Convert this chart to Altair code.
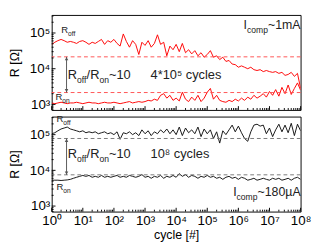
import altair as alt
import pandas as pd

FONT = "Liberation Sans"

# ---------------- data ----------------
cycles = [1, 1.26, 1.58, 2.0, 2.51, 3.16, 3.98, 5.01, 6.31, 7.94,
          10, 12.6, 15.8, 20.0, 25.1, 31.6, 39.8, 50.1, 63.1, 79.4,
          100, 126, 158, 200, 251, 316, 398, 501, 631, 794,
          1e3, 1.26e3, 1.58e3, 2e3, 2.51e3, 3.16e3, 3.98e3, 5.01e3, 6.31e3, 7.94e3,
          1e4, 1.26e4, 1.58e4, 2e4, 2.51e4, 3.16e4, 3.98e4, 5.01e4, 6.31e4, 7.94e4,
          1e5, 1.26e5, 1.58e5, 2e5, 2.51e5, 3.16e5, 3.98e5, 5.01e5, 6.31e5, 7.94e5,
          1e6, 1.26e6, 1.58e6, 2e6, 2.51e6, 3.16e6, 3.98e6, 5.01e6, 6.31e6, 7.94e6,
          1e7, 1.26e7, 1.58e7, 2e7, 2.51e7, 3.16e7, 3.98e7, 5.01e7, 6.31e7, 7.94e7,
          1e8]

# top panel: I_comp ~ 1 mA (red)
top_roff = [4.8e4, 5.5e4, 6.1e4, 6.6e4, 6.1e4, 5.5e4, 5.8e4, 5.5e4, 5.1e4, 5.8e4,
            6.1e4, 5.5e4, 4.8e4, 5.5e4, 5.1e4, 5.8e4, 6.6e4, 4.8e4, 6.1e4, 5.5e4,
            6.6e4, 5.1e4, 4.3e4, 9.4e4, 5.8e4, 4.0e4, 6.1e4, 4.8e4, 2.5e4, 5.5e4,
            4.5e4, 6.1e4, 4.0e4, 5.1e4, 8.9e4, 4.8e4, 5.5e4, 2.3e4, 4.3e4, 3.4e4,
            4.8e4, 3.0e4, 5.1e4, 2.8e4, 3.4e4, 2.6e4, 3.2e4, 2.3e4, 2.8e4, 2.1e4,
            2.5e4, 3.2e4, 2.1e4, 2.3e4, 1.8e4, 2.1e4, 1.6e4, 1.7e4, 1.35e4, 1.3e4,
            1.1e4, 1.2e4, 1.1e4, 1.0e4, 1.1e4, 9.4e3, 8.9e3, 9.4e3, 8.3e3, 8.9e3,
            8.3e3, 7.9e3, 8.3e3, 7.4e3, 7.9e3, 6.5e3, 6.9e3, 7.9e3, 6.1e3, 7.4e3,
            2.8e3]
top_ron = [1.1e3, 1.05e3, 1.1e3, 1.15e3, 1.1e3, 1.05e3, 1.1e3, 1.1e3, 1.15e3, 1.1e3,
           1.05e3, 1.1e3, 1.15e3, 1.1e3, 1.1e3, 1.05e3, 1.1e3, 1.15e3, 1.1e3, 1.1e3,
           1.15e3, 1.1e3, 1.05e3, 1.1e3, 1.15e3, 1.2e3, 1.1e3, 1.15e3, 1.2e3, 1.15e3,
           1.2e3, 1.3e3, 1.25e3, 1.4e3, 1.3e3, 1.8e3, 2.0e3, 1.5e3, 1.8e3, 1.3e3,
           1.5e3, 1.25e3, 2.2e3, 1.4e3, 1.2e3, 1.6e3, 1.3e3, 1.8e3, 1.2e3, 1.5e3,
           2.2e3, 2.8e3, 1.4e3, 1.8e3, 1.3e3, 1.2e3, 1.15e3, 1.3e3, 1.2e3, 1.4e3,
           1.25e3, 1.5e3, 1.3e3, 1.6e3, 1.4e3, 1.8e3, 1.5e3, 1.7e3, 2.0e3, 1.6e3,
           2.3e3, 1.8e3, 2.6e3, 1.7e3, 3.0e3, 2.0e3, 3.5e3, 1.9e3, 2.8e3, 4.0e3,
           2.5e3]
top_thresholds = [2.15e4, 2.15e3]

# bottom panel: I_comp ~ 180 uA (black)
bot_roff = [1.06e5, 1.13e5, 1.28e5, 1.44e5, 1.53e5, 1.63e5, 1.44e5, 1.36e5, 1.28e5, 1.2e5,
            1.28e5, 1.13e5, 1.2e5, 1.13e5, 1.2e5, 1.06e5, 1.13e5, 1.2e5, 1.06e5, 1.13e5,
            1.0e5, 1.2e5, 7.4e4, 1.13e5, 1.06e5, 1.2e5, 1.0e5, 1.13e5, 9.4e4, 1.36e5,
            1.06e5, 1.28e5, 9.4e4, 1.2e5, 1.06e5, 1.36e5, 1.13e5, 1.44e5, 1.06e5, 1.36e5,
            1.0e5, 1.63e5, 9.4e4, 1.53e5, 1.13e5, 1.36e5, 1.06e5, 1.63e5, 8.8e4, 1.44e5,
            1.06e5, 1.36e5, 7.8e4, 1.2e5, 5.8e4, 1.28e5, 1.0e5, 1.36e5, 1.85e5, 1.2e5,
            1.73e5, 1.13e5, 7.8e4, 6.5e4, 1.2e5, 1.85e5, 1.96e5, 1.73e5, 1.85e5, 1.06e5,
            1.53e5, 8.8e4, 1.36e5, 1.96e5, 1.2e5, 1.85e5, 1.13e5, 2.08e5, 9.4e4, 1.96e5,
            1.28e5]
bot_ron = [5.3e3, 5.3e3, 5.3e3, 5.2e3, 5.3e3, 5.4e3, 5.6e3, 6.0e3, 6.4e3, 6.8e3,
           7.2e3, 6.8e3, 7.2e3, 6.4e3, 6.8e3, 6.4e3, 7.2e3, 6.4e3, 6.8e3, 6.4e3,
           6.8e3, 7.2e3, 6.4e3, 6.8e3, 6.4e3, 7.2e3, 6.8e3, 6.4e3, 6.8e3, 7.6e3,
           6.4e3, 6.8e3, 6.0e3, 6.8e3, 6.4e3, 7.2e3, 6.0e3, 6.8e3, 6.4e3, 7.2e3,
           6.4e3, 8.1e3, 6.8e3, 7.6e3, 6.4e3, 7.2e3, 6.8e3, 6.0e3, 6.8e3, 6.4e3,
           7.2e3, 6.4e3, 6.8e3, 6.0e3, 6.4e3, 5.6e3, 6.4e3, 6.8e3, 6.0e3, 6.4e3,
           5.6e3, 6.4e3, 6.0e3, 5.3e3, 5.6e3, 6.0e3, 5.3e3, 5.6e3, 6.0e3, 5.6e3,
           5.3e3, 6.0e3, 5.6e3, 6.0e3, 5.3e3, 5.6e3, 6.0e3, 5.3e3, 6.0e3, 6.4e3,
           5.6e3]
bot_thresholds = [7.8e4, 7.5e3]

arrow_cycle = 3.0

x_major = [1, 10, 100, 1e3, 1e4, 1e5, 1e6, 1e7, 1e8]
x_minor = [m * d for d in [1, 10, 100, 1e3, 1e4, 1e5, 1e6, 1e7] for m in range(2, 10)]
y_major = [1e3, 1e4, 1e5]
y_minor = [700, 800, 900] + [m * d for d in [1e3, 1e4] for m in range(2, 10)] + [2e5, 3e5]

X_DOMAIN = [1, 1e8]
Y_DOMAIN = [700, 3.2e5]
W, H = 262, 100

SUP = "['⁰','¹','²','³','⁴','⁵','⁶','⁷','⁸','⁹']"
CHARW = {'R': .722, 'o': .556, 'f': .278, 'n': .556, '/': .278, '~': .584, '1': .556,
         '0': .556, '8': .556, 'I': .278, 'c': .5, 'm': .833, 'p': .556, 'A': .667,
         'µ': .576}


def X(show):
    axis = None
    if show:
        axis = alt.Axis(values=x_major, title="cycle [#]", labelFlush=False, labelOverlap=False,
                        labelPadding=3, titlePadding=1,
                        labelExpr="'10' + " + SUP + "[round(log(datum.value)/LN10)]")
    return alt.X("cycle:Q", scale=alt.Scale(type="log", domain=X_DOMAIN, nice=False), axis=axis)


def Y():
    axis = alt.Axis(values=y_major, title="R [Ω]", labelOverlap=False, labelPadding=2,
                    titlePadding=8,
                    labelExpr="'10' + " + SUP + "[round(log(datum.value)/LN10)]")
    return alt.Y("R:Q", scale=alt.Scale(type="log", domain=Y_DOMAIN, nice=False), axis=axis)


def label(parts, x, y, size, sub, show, color="#222"):
    layers = []
    dx = 0.0
    for text, is_sub in parts:
        fs = sub if is_sub else size
        layers.append(
            alt.Chart(pd.DataFrame({"cycle": [x], "R": [y], "t": [text]}))
            .mark_text(align="left", baseline="middle", dx=dx, dy=(size * 0.38 if is_sub else 0),
                       fontSize=fs, font=FONT, color=color)
            .encode(x=X(show), y=Y(), text="t:N")
        )
        dx += sum(CHARW.get(ch, .556) for ch in text) * fs
    return layers


def panel(roff, ron, color, thr, thr_color, texts, show_x):
    n = len(cycles)
    df = pd.DataFrame({"cycle": cycles * 2, "R": roff + ron,
                       "trace": ["off"] * n + ["on"] * n})
    lines = alt.Chart(df).mark_line(color=color, strokeWidth=1, clip=True).encode(
        x=X(show_x), y=Y(), detail="trace:N")
    dashes = alt.Chart(pd.DataFrame({"R": thr})).mark_rule(
        color=thr_color, strokeDash=[4, 3], strokeWidth=1).encode(y=Y())
    arr = pd.DataFrame({"cycle": [arrow_cycle], "R": [thr[1]], "R2": [thr[0]]})
    shaft = alt.Chart(arr).mark_rule(color="#555", strokeWidth=1).encode(
        x=X(show_x), y=Y(), y2="R2:Q")
    head_up = alt.Chart(pd.DataFrame({"cycle": [arrow_cycle], "R": [thr[0]]})).mark_point(
        shape="triangle-up", filled=True, size=14, color="#555", opacity=1, yOffset=2).encode(
        x=X(show_x), y=Y())
    head_dn = alt.Chart(pd.DataFrame({"cycle": [arrow_cycle], "R": [thr[1]]})).mark_point(
        shape="triangle-down", filled=True, size=14, color="#555", opacity=1, yOffset=-2).encode(
        x=X(show_x), y=Y())
    xt_major = alt.Chart(pd.DataFrame({"cycle": x_major})).mark_rule(color="black").encode(
        x=X(show_x), y=alt.value(H), y2=alt.value(H - 4))
    xt_minor = alt.Chart(pd.DataFrame({"cycle": x_minor})).mark_rule(color="black").encode(
        x=X(show_x), y=alt.value(H), y2=alt.value(H - 2))
    yt_major = alt.Chart(pd.DataFrame({"R": y_major})).mark_rule(color="black").encode(
        y=Y(), x=alt.value(0), x2=alt.value(4))
    yt_minor = alt.Chart(pd.DataFrame({"R": y_minor})).mark_rule(color="black").encode(
        y=Y(), x=alt.value(0), x2=alt.value(2))
    layers = [lines, dashes, shaft, head_up, head_dn, xt_major, xt_minor, yt_major, yt_minor]
    for parts, x, y, size, sub in texts:
        layers += label(parts, x, y, size, sub, show_x)
    return alt.layer(*layers).properties(width=W, height=H)


top_texts = [
    ([("R", False), ("off", True)], 2.02, 1.2e5, 10, 7),
    ([("R", False), ("on", True)], 1.32, 1.55e3, 10, 7),
    ([("R", False), ("off", True), ("/R", False), ("on", True), ("~10", False)], 3.3, 6.4e3, 13.5, 9),
    ([("4*10⁵ cycles", False)], 1.5e3, 6.4e3, 13.5, 9),
    ([("I", False), ("comp", True), ("~1mA", False)], 1.47e6, 1.63e5, 13, 9),
]
bot_texts = [
    ([("R", False), ("off", True)], 1.42, 2.66e5, 10, 7),
    ([("R", False), ("on", True)], 1.42, 3.4e3, 10, 7),
    ([("R", False), ("off", True), ("/R", False), ("on", True), ("~10", False)], 3.3, 2.76e4, 13.5, 9),
    ([("10⁸ cycles", False)], 1.5e3, 2.76e4, 13.5, 9),
    ([("I", False), ("comp", True), ("~180µA", False)], 6.8e5, 2.4e3, 13, 9),
]

top = panel(top_roff, top_ron, "#ff0000", top_thresholds, "#ff5050", top_texts, False)
bottom = panel(bot_roff, bot_ron, "#111111", bot_thresholds, "#777777", bot_texts, True)

chart = (
    alt.vconcat(top, bottom, spacing=2)
    .properties(padding=0)
    .configure_view(stroke="black", strokeWidth=1)
    .configure_axis(grid=False, domain=False, ticks=False, labelFont=FONT, titleFont=FONT,
                    labelFontSize=14, titleFontSize=13, titleFontWeight="normal",
                    labelColor="black", titleColor="black")
)

chart.save("out.html", embed_options={"renderer": "svg", "actions": False})
